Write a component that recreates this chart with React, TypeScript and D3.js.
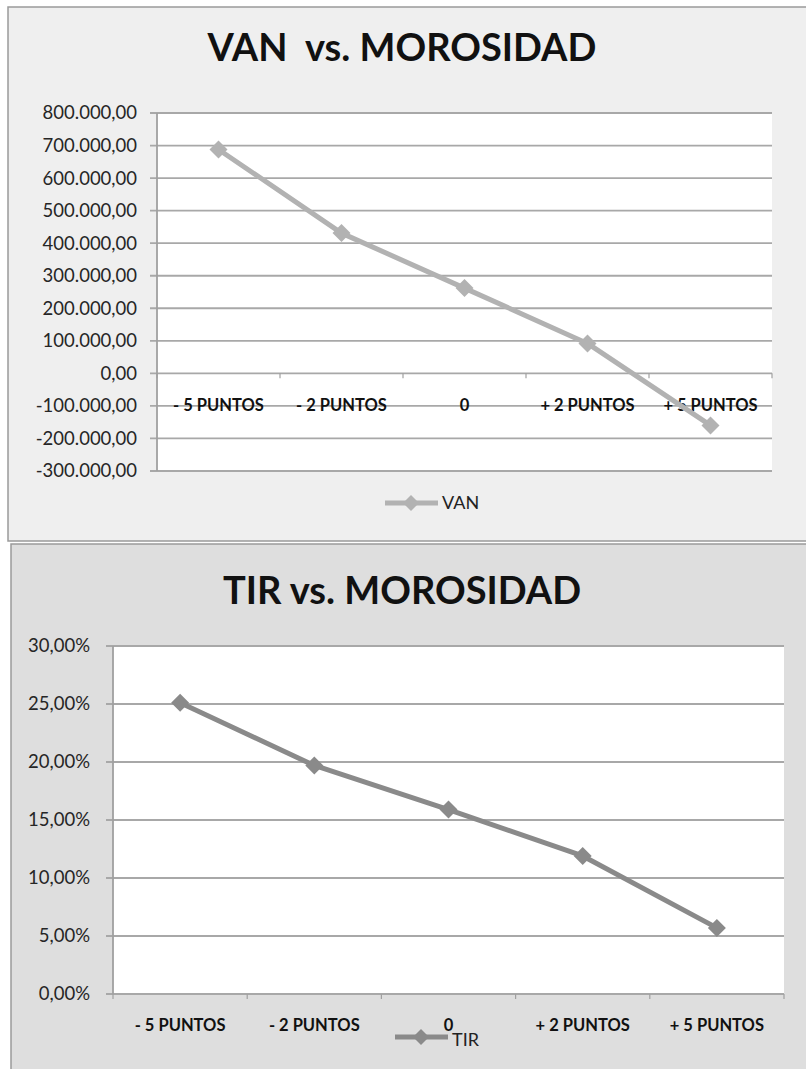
import React from 'react';
import * as d3 from 'd3';

// categories on the x axis (both charts)
const categories = ['- 5 PUNTOS', '- 2 PUNTOS', '0', '+ 2 PUNTOS', '+ 5 PUNTOS'];

// VAN values
const vanValues = [688000, 431000, 262000, 92000, -160000];
const vanTicks = [800000, 700000, 600000, 500000, 400000, 300000, 200000, 100000, 0, -100000, -200000, -300000];

// TIR values (fractions)
const tirValues = [0.251, 0.197, 0.159, 0.119, 0.057];
const tirTicks = [0.3, 0.25, 0.2, 0.15, 0.1, 0.05, 0];

const FONT = 'Lato, "Open Sans", sans-serif';

const fmtNum = (v: number) => {
  const s = d3.format(',.2f')(v); // 800,000.00
  return s.replace(/,/g, '#').replace('.', ',').replace(/#/g, '.').replace('−', '-');
};
const fmtPct = (v: number) => d3.format('.2f')(v * 100).replace('.', ',') + '%';

type ChartProps = {
  panel: { x: number; y: number; w: number; h: number; fill: string };
  plot: { left: number; right: number; top: number; bottom: number };
  title: string;
  titleY: number;
  values: number[];
  ticks: number[];
  fmt: (v: number) => string;
  labelRight: number;
  catY: number;
  color: string;
  legendName: string;
  legend: { x: number; y: number; textDy: number };
};

const Diamond = ({ x, y, r, fill }: { x: number; y: number; r: number; fill: string }) => (
  <path d={`M${x},${y - r}L${x + r},${y}L${x},${y + r}L${x - r},${y}Z`} fill={fill} />
);

const LineChart = (props: ChartProps) => {
  const { panel, plot, title, titleY, values, ticks, fmt, labelRight, catY, color, legendName, legend } = props;

  const x = d3.scaleBand().domain(categories).range([plot.left, plot.right]);
  const y = d3
    .scaleLinear()
    .domain([d3.min(ticks) as number, d3.max(ticks) as number])
    .range([plot.bottom, plot.top]);

  const line = d3
    .line<number>()
    .x((d, i) => (x(categories[i]) as number) + x.bandwidth() / 2)
    .y((d) => y(d));

  const zeroY = y(0);
  const boundaries = categories.map((c) => x(c) as number).concat([plot.right]);

  return (
    <g>
      <rect x={panel.x} y={panel.y} width={panel.w} height={panel.h} fill={panel.fill} stroke="#9a9a9a" strokeWidth={1.5} />
      <text x={402} y={titleY} textAnchor="middle" fontFamily={FONT} fontWeight="bold" fontSize={38} fill="#111">
        {title}
      </text>

      {/* plot area */}
      <rect x={plot.left} y={plot.top} width={plot.right - plot.left} height={plot.bottom - plot.top} fill="#fff" />

      {/* gridlines + y labels */}
      {ticks.map((t) => (
        <g key={t}>
          <line x1={plot.left - 7} x2={plot.right} y1={y(t)} y2={y(t)} stroke="#a8a8a8" strokeWidth={1.8} />
          <text
            x={labelRight}
            y={y(t)}
            dy="0.35em"
            textAnchor="end"
            fontFamily={FONT}
            fontSize={18.5}
            fill="#262626"
          >
            {fmt(t)}
          </text>
        </g>
      ))}

      {/* y axis */}
      <line x1={plot.left} x2={plot.left} y1={plot.top} y2={plot.bottom} stroke="#a0a0a0" strokeWidth={1.8} />

      {/* x axis ticks */}
      {boundaries.map((b, i) => (
        <line key={i} x1={b} x2={b} y1={zeroY} y2={zeroY + 5} stroke="#a0a0a0" strokeWidth={1.2} />
      ))}

      {/* category labels */}
      {categories.map((c) => (
        <text
          key={c}
          x={(x(c) as number) + x.bandwidth() / 2}
          y={catY}
          dy="0.35em"
          textAnchor="middle"
          fontFamily={FONT}
          fontWeight="bold"
          fontSize={16.5}
          fill="#111"
        >
          {c}
        </text>
      ))}

      {/* series */}
      <path d={line(values) as string} fill="none" stroke={color} strokeWidth={5} strokeLinejoin="round" />
      {values.map((v, i) => (
        <Diamond key={i} x={(x(categories[i]) as number) + x.bandwidth() / 2} y={y(v)} r={9} fill={color} />
      ))}

      {/* legend */}
      <line x1={legend.x} x2={legend.x + 53} y1={legend.y} y2={legend.y} stroke={color} strokeWidth={5} />
      <Diamond x={legend.x + 26} y={legend.y} r={8} fill={color} />
      <text x={legend.x + 57} y={legend.y + legend.textDy} dy="0.35em" fontFamily={FONT} fontSize={18} fill="#222">
        {legendName}
      </text>
    </g>
  );
};

export default function App() {
  return (
    <svg width={806} height={1069} style={{ position: 'absolute', left: 0, top: 0, background: '#fff' }}>
      <LineChart
        panel={{ x: 8, y: 7, w: 810, h: 534, fill: '#efefef' }}
        plot={{ left: 157, right: 772, top: 113, bottom: 471 }}
        title={'VAN\u00a0\u00a0vs. MOROSIDAD'}
        titleY={61}
        values={vanValues}
        ticks={vanTicks}
        fmt={fmtNum}
        labelRight={137}
        catY={405}
        color="#b2b2b2"
        legendName="VAN"
        legend={{ x: 385, y: 503, textDy: 0 }}
      />
      <LineChart
        panel={{ x: 11, y: 544, w: 810, h: 540, fill: '#dedede' }}
        plot={{ left: 113, right: 784, top: 646, bottom: 994 }}
        title="TIR vs. MOROSIDAD"
        titleY={604}
        values={tirValues}
        ticks={tirTicks}
        fmt={fmtPct}
        labelRight={90}
        catY={1025}
        color="#8a8a8a"
        legendName="TIR"
        legend={{ x: 395, y: 1037, textDy: 3 }}
      />
    </svg>
  );
}
